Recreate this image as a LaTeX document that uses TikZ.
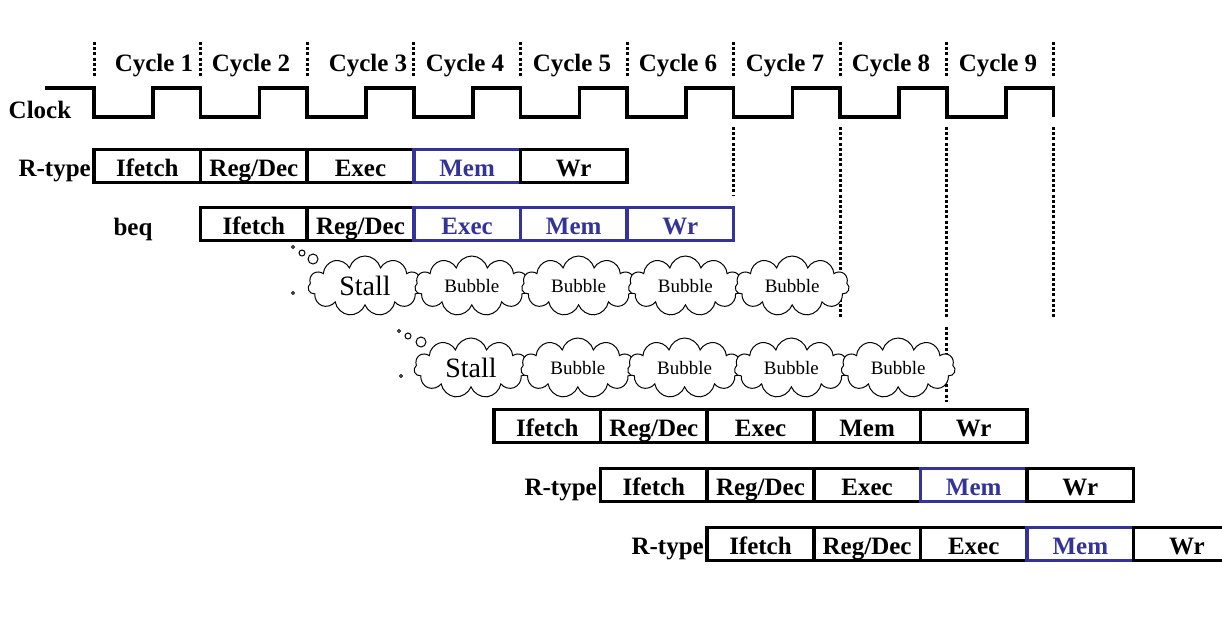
\documentclass[tikz,border=0pt]{standalone}
\usepackage{fontspec}
\setmainfont{Liberation Serif}
\usetikzlibrary{shapes.symbols}
\definecolor{hazblue}{RGB}{51,51,153}
\tikzset{
  lbl/.style={font=\fontsize{25}{25}\selectfont\bfseries,inner sep=0pt},
  stage/.style={lbl,draw,line width=3.5pt,minimum width=106.6pt,minimum height=33pt,outer sep=0pt,
    text height=22pt,text depth=2pt},
  cyclemark/.style={line width=3pt,dash pattern=on 3pt off 2.2pt},
  puff/.style={cloud,cloud puffs=11,cloud ignores aspect,draw,fill=white,line width=1pt,
    minimum width=114pt,minimum height=60pt,inner sep=0pt,font=\fontsize{19}{19}\selectfont},
}
\begin{document}
\begin{tikzpicture}[x=1pt,y=-1pt]
  \useasboundingbox (0,0) rectangle (1222,619);
  % cycle markers and labels
  \foreach \k in {0,...,9}
    \draw[cyclemark] ({94+106.6*\k},42) -- ({94+106.6*\k},78);
  \foreach \k/\c in {1/154,2/251,3/368,4/465,5/572,6/678,7/785,8/891,9/998}
    \node[lbl,anchor=base] (cyc\k) at (\c,71) {Cycle \k};
  % clock
  \node[lbl,anchor=base] (clk) at (40,118) {Clock};
  \draw[line width=3.5pt] (45,88)
    \foreach \k in {0,...,8} {
      -- ({94+106.6*\k},88) -- ({94+106.6*\k},117)
      -- ({153+106.6*\k},117) -- ({153+106.6*\k},88)}
    -- (1053.4,88) -- (1053.4,117);
  \foreach \k/\y in {6/195,7/318,8/318,9/318}
    \draw[cyclemark] ({94+106.6*\k},127) -- ({94+106.6*\k},\y);
  \draw[cyclemark] (946.8,327) -- (946.8,402);
  % R-type
  \node[lbl,anchor=base east] (rtA) at (91,176) {R-type};
  \foreach \s/\c [count=\i from 0] in {Ifetch/black,{Reg/Dec}/black,Exec/black,Mem/hazblue,Wr/black}
    \node[stage,draw=\c,text=\c] (ra\i) at ({147.3+106.6*\i},166) {\s};
  % beq
  \node[lbl,anchor=base] (beq) at (133,235) {beq};
  \foreach \s/\c [count=\i from 0] in {Ifetch/black,{Reg/Dec}/black,Exec/hazblue,Mem/hazblue,Wr/hazblue}
    \node[stage,draw=\c,text=\c] (rb\i) at ({253.9+106.6*\i},224) {\s};
  % stalls
  \foreach \r/\cx/\cy in {a/365/286,b/471/368} {
    \node[puff,font=\fontsize{28}{28}\selectfont] (stall\r) at (\cx,\cy) {Stall};
    \foreach \i in {1,...,4}
      \node[puff] (bub\r\i) at ({\cx+106.8*\i},\cy) {Bubble};
  }
  \draw[line width=1pt] (293,247) circle (1.5) (302,253) circle (3) (313,259) circle (5) (293,293) circle (1.5);
  \draw[line width=1pt] (399,331) circle (1.5) (408,336) circle (3) (421,342) circle (5) (401,376) circle (1.5);
  % following instructions
  \foreach \s/\c [count=\i from 0] in {Ifetch/black,{Reg/Dec}/black,Exec/black,Mem/black,Wr/black}
    \node[stage,draw=\c,text=\c] (rc\i) at ({547.3+106.6*\i},426) {\s};
  \node[lbl,anchor=base east] (rtD) at (597,495) {R-type};
  \foreach \s/\c [count=\i from 0] in {Ifetch/black,{Reg/Dec}/black,Exec/black,Mem/hazblue,Wr/black}
    \node[stage,draw=\c,text=\c] (rd\i) at ({653.9+106.6*\i},485) {\s};
  \node[lbl,anchor=base east] (rtE) at (704,554) {R-type};
  \foreach \s/\c [count=\i from 0] in {Ifetch/black,{Reg/Dec}/black,Exec/black,Mem/hazblue,Wr/black}
    \node[stage,draw=\c,text=\c] (re\i) at ({760.5+106.6*\i},544) {\s};
\end{tikzpicture}
\end{document}
